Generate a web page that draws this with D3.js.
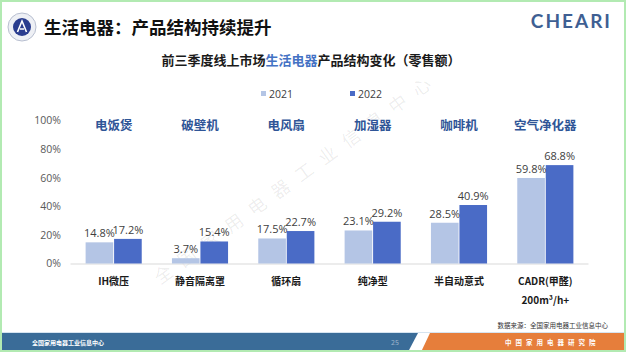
<!DOCTYPE html>
<html>
<head>
<meta charset="utf-8">
<script src="https://cdn.jsdelivr.net/npm/d3@7"></script>
<style>
  body { margin: 0; background: #fff; }
  svg { display: block; font-family: "Noto Sans CJK SC", "Noto Sans", sans-serif; }
</style>
</head>
<body>
<div id="chart"></div>
<script>
// data
const groups = ["电饭煲", "破壁机", "电风扇", "加湿器", "咖啡机", "空气净化器"];
const subLabels = [["IH微压"], ["静音隔离罩"], ["循环扇"], ["纯净型"], ["半自动意式"], ["CADR(甲醛)", "200m³/h+"]];
const years = ["2021", "2022"];
const values2021 = [14.8, 3.7, 17.5, 23.1, 28.5, 59.8];
const values2022 = [17.2, 15.4, 22.7, 29.2, 40.9, 68.8];
const yTicks = [0, 20, 40, 60, 80, 100];

const colors = { "2021": "#b4c5e5", "2022": "#4a6bc6" };

(() => {
  const size = { width: 626, height: 352 };
  const margin = { top: 120.5, bottom: 88.5, left: 70.5, right: 37.5 };

  const svg = d3
    .select("#chart")
    .append("svg")
    .attr("width", size.width)
    .attr("height", size.height);

  const data = groups.map((g, i) => ({
    group: g,
    sub: subLabels[i],
    vals: [
      { year: "2021", v: values2021[i] },
      { year: "2022", v: values2022[i] },
    ],
  }));

  // watermark
  svg
    .append("text")
    .text("全国家用电器工业信息中心")
    .attr("transform", "translate(160,285) rotate(-36)")
    .attr("fill", "#000")
    .attr("fill-opacity", 0.08)
    .style("font-size", "18px")
    .style("letter-spacing", "11px")
    .style("font-family", "Noto Sans CJK SC");

  // header
  const logo = svg.append("g").attr("transform", "translate(22,27)");
  logo.append("circle").attr("r", 14).attr("fill", "#eef0f5").attr("stroke", "#b8bfd0").attr("stroke-width", 1);
  logo.append("circle").attr("r", 9).attr("fill", "#2a3d8f");
  logo
    .append("path")
    .attr("d", "M-4.5,5 L0,-6 L4.5,5 M-2,2 L2,2")
    .attr("stroke", "#fff")
    .attr("stroke-width", 1.6)
    .attr("fill", "none");

  svg
    .append("text")
    .text("生活电器：产品结构持续提升")
    .attr("x", 44)
    .attr("y", 34)
    .attr("fill", "#111")
    .style("font-size", "17.5px")
    .style("font-weight", "bold");

  svg
    .append("text")
    .text("CHEARI")
    .attr("x", 612)
    .attr("y", 28)
    .attr("text-anchor", "end")
    .attr("fill", "#3e5f93")
    .style("font-family", "Lato, 'Open Sans', sans-serif")
    .style("font-size", "19px")
    .style("font-weight", "bold")
    .style("letter-spacing", "2px");

  const sub = svg
    .append("text")
    .attr("x", 311)
    .attr("y", 65)
    .attr("text-anchor", "middle")
    .attr("fill", "#1a1a1a")
    .style("font-size", "13px")
    .style("font-weight", "bold");
  sub.append("tspan").text("前三季度线上市场");
  sub.append("tspan").text("生活电器").attr("fill", "#4472c4");
  sub.append("tspan").text("产品结构变化（零售额）");

  // scales
  const x0 = d3
    .scaleBand()
    .domain(groups)
    .range([margin.left, size.width - margin.right])
    .paddingInner(0.35)
    .paddingOuter(0.175);

  const x1 = d3
    .scaleBand()
    .domain(years)
    .range([0, x0.bandwidth()])
    .paddingInner(0.03);

  const y = d3
    .scaleLinear()
    .domain([0, 100])
    .range([size.height - margin.bottom, margin.top]);

  // y axis labels
  svg
    .append("g")
    .call(
      d3
        .axisLeft(y)
        .tickValues(yTicks)
        .tickSize(0)
        .tickPadding(0)
        .tickFormat((d) => d + "%")
    )
    .attr("transform", "translate(61,0)")
    .call((g) => g.select(".domain").remove())
    .call((g) =>
      g
        .selectAll("text")
        .attr("fill", "#595959")
        .style("font-size", "10.5px")
        .style("font-family", "'Open Sans', 'Noto Sans', sans-serif")
    );

  // baseline
  svg
    .append("line")
    .attr("x1", margin.left)
    .attr("x2", size.width - margin.right)
    .attr("y1", y(0) + 0.5)
    .attr("y2", y(0) + 0.5)
    .attr("stroke", "#d9d9d9")
    .attr("stroke-width", 1);

  const g = svg
    .selectAll(".grp")
    .data(data)
    .join("g")
    .attr("class", "grp")
    .attr("transform", (d) => `translate(${x0(d.group)},0)`);

  g.selectAll("rect")
    .data((d) => d.vals)
    .join("rect")
    .attr("x", (d) => x1(d.year))
    .attr("y", (d) => y(d.v))
    .attr("width", x1.bandwidth())
    .attr("height", (d) => y(0) - y(d.v))
    .attr("fill", (d) => colors[d.year]);

  g.selectAll(".val")
    .data((d) => d.vals)
    .join("text")
    .attr("class", "val")
    .text((d) => d.v.toFixed(1) + "%")
    .attr("x", (d) => x1(d.year) + x1.bandwidth() / 2)
    .attr("y", (d) => y(d.v) - 5)
    .attr("text-anchor", "middle")
    .attr("fill", "#404040")
    .style("font-size", "11px")
    .style("font-family", "'Open Sans', 'Noto Sans', sans-serif");

  // category titles
  g.append("text")
    .text((d) => d.group)
    .attr("x", x0.bandwidth() / 2)
    .attr("y", 130)
    .attr("text-anchor", "middle")
    .attr("fill", "#2f5597")
    .style("font-size", "12.5px")
    .style("font-weight", "bold");

  // sub-category labels
  g.each(function (d) {
    d3.select(this)
      .selectAll(".sub")
      .data(d.sub)
      .join("text")
      .attr("class", "sub")
      .text((t) => t)
      .attr("x", x0.bandwidth() / 2)
      .attr("y", (t, i) => 285 + i * 19)
      .attr("text-anchor", "middle")
      .attr("fill", "#1a1a1a")
      .style("font-size", "10px")
      .style("font-weight", "bold");
  });

  // legend
  const legend = svg
    .selectAll(".leg")
    .data(years)
    .join("g")
    .attr("class", "leg")
    .attr("transform", (d, i) => `translate(${261 + i * 89},94)`);
  legend
    .append("rect")
    .attr("x", 0)
    .attr("y", -3)
    .attr("width", 5)
    .attr("height", 5)
    .attr("fill", (d) => colors[d]);
  legend
    .append("text")
    .text((d) => d)
    .attr("x", 8)
    .attr("y", 4)
    .attr("fill", "#404040")
    .style("font-size", "10.5px")
    .style("font-family", "'Open Sans', 'Noto Sans', sans-serif");

  // footer
  svg
    .append("text")
    .text("数据来源：全国家用电器工业信息中心")
    .attr("x", 608)
    .attr("y", 328)
    .attr("text-anchor", "end")
    .attr("fill", "#333")
    .style("font-size", "6.5px");

  svg
    .append("rect")
    .attr("x", 0)
    .attr("y", 332)
    .attr("width", size.width)
    .attr("height", 1)
    .attr("fill", "#d6e4f0");
  svg
    .append("path")
    .attr("d", "M0,333 L418,333 L408,352 L0,352 Z")
    .attr("fill", "#3a6c98");
  svg
    .append("path")
    .attr("d", "M430,333 L626,333 L626,352 L421,352 Z")
    .attr("fill", "#e67e3b");

  svg
    .append("text")
    .text("全国家用电器工业信息中心")
    .attr("x", 32)
    .attr("y", 345)
    .attr("fill", "#fff")
    .style("font-size", "6px")
    .style("font-weight", "bold");
  svg
    .append("text")
    .text("25")
    .attr("x", 395)
    .attr("y", 345)
    .attr("text-anchor", "middle")
    .attr("fill", "#9fb6cc")
    .style("font-size", "7px");
  svg
    .append("text")
    .text("中国家用电器研究院")
    .attr("x", 505)
    .attr("y", 345)
    .attr("fill", "#fff")
    .style("font-size", "6.5px")
    .style("font-weight", "bold")
    .style("letter-spacing", "4px");

  // slide border
  svg
    .append("rect")
    .attr("x", 1)
    .attr("y", 1)
    .attr("width", size.width - 2)
    .attr("height", size.height - 2)
    .attr("fill", "none")
    .attr("stroke", "#b2eab2")
    .attr("stroke-width", 2);
})();
</script>
</body>
</html>
